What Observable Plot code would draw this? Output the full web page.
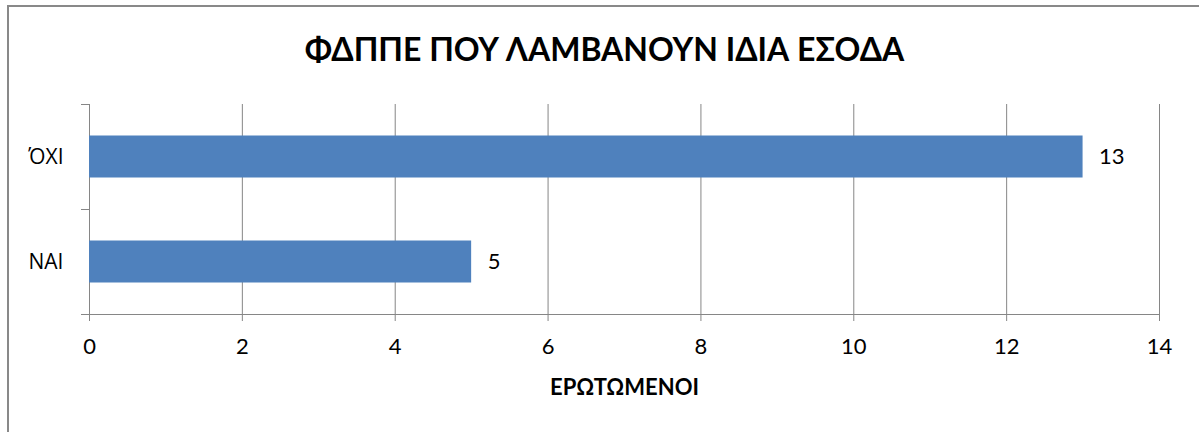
<!DOCTYPE html>
<html>
<head>
<meta charset="utf-8">
<script src="https://cdn.jsdelivr.net/npm/d3@7"></script>
<script src="https://cdn.jsdelivr.net/npm/@observablehq/plot@0.6"></script>
<style>
  html, body { margin: 0; padding: 0; background: #fff; overflow: hidden; width: 1199px; height: 432px; }
  #frame { position: absolute; left: 7px; top: 5px; width: 1400px; height: 600px; border: 2px solid #898989; box-sizing: border-box; }
  #wrap { position: absolute; left: 0; top: 0; width: 1199px; }
  #title { height: 90px; box-sizing: border-box; padding-top: 30px; padding-left: 10px; text-align: center;
           font-family: Lato, "Open Sans", sans-serif; font-weight: bold; font-size: 32px; line-height: 38px; color: #000; }
  g[aria-label="x-axis label"] text { font-weight: bold; }
</style>
</head>
<body>
<div id="frame"></div>
<div id="wrap">
  <div id="title">ΦΔΠΠΕ ΠΟΥ ΛΑΜΒΑΝΟΥΝ ΙΔΙΑ ΕΣΟΔΑ</div>
  <div id="chart"></div>
</div>
<script>
const categories = ["ΝΑΙ", "ΌΧΙ"];
const values = [5, 13];
const xTicks = [0, 2, 4, 6, 8, 10, 12, 14];
const axisTitle = "ΕΡΩΤΩΜΕΝΟΙ";

const data = categories.map((c, i) => ({category: c, value: values[i], index: i}));
const gray = "#868686";

const chart = Plot.plot({
  width: 1199,
  height: 342,
  marginLeft: 89,
  marginRight: 40,
  marginTop: 14,
  marginBottom: 118,
  style: {fontFamily: 'Lato, "Open Sans", sans-serif', fontSize: "22px", color: "#000", background: "transparent", overflow: "visible"},
  x: {type: "linear", domain: [0, 14]},
  y: {type: "linear", domain: [0, categories.length]},
  marks: [
    Plot.gridX(xTicks, {stroke: gray, strokeOpacity: 1}),
    Plot.axisX(xTicks, {tickSize: 7, tickPadding: 17, stroke: gray, fill: "#000", label: axisTitle, labelArrow: "none", labelAnchor: "center", labelOffset: 80, tickFormat: d => String(d)}),
    Plot.ruleY([0], {stroke: gray}),
    Plot.ruleX([0], {stroke: gray}),
    Plot.axisY(d3.range(categories.length + 1), {tickSize: 8, tickFormat: () => "", stroke: gray, label: null}),
    Plot.axisY(categories.map((c, i) => i + 0.5), {tickSize: 0, tickPadding: 26, tickFormat: v => categories[Math.floor(v)], fill: "#000", fontFamily: '"Open Sans", sans-serif', fontSize: 21, label: null}),
    Plot.rectX(data, {x: "value", y1: d => d.index + 0.3, y2: d => d.index + 0.7, fill: "#4F81BD"}),
    Plot.text(data, {x: "value", y: d => d.index + 0.5, text: d => String(d.value), textAnchor: "start", dx: 16, fill: "#000", fontSize: 22})
  ]
});
document.getElementById("chart").appendChild(chart);
</script>
</body>
</html>
